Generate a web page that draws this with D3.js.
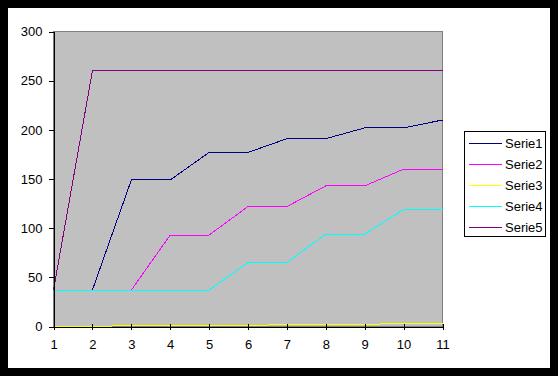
<!DOCTYPE html>
<html>
<head>
<meta charset="utf-8">
<script src="https://cdn.jsdelivr.net/npm/d3@7"></script>
<style>
  html, body { margin: 0; padding: 0; background: #000; }
  svg { display: block; }
  text { font-family: "Liberation Sans", Arial, sans-serif; font-size: 13px; fill: #000; }
</style>
</head>
<body>
<svg id="chart" width="558" height="376"></svg>
<script>
const categories = [1, 2, 3, 4, 5, 6, 7, 8, 9, 10, 11];
const serie1 = [37, 37, 149, 149, 177, 177, 191, 191, 202, 202, 210];
const serie2 = [37, 37, 37, 93, 93, 122, 122, 143, 143, 160, 160];
const serie3 = [0, 0, 1, 1, 1, 1, 2, 2, 2, 3.4, 3.4];
const serie4 = [37, 37, 37, 37, 37, 65, 65, 94, 94, 119, 119];
const serie5 = [37, 260, 260, 260, 260, 260, 260, 260, 260, 260, 260];
const seriesNames = ["Serie1", "Serie2", "Serie3", "Serie4", "Serie5"];
const seriesColors = ["#000080", "#FF00FF", "#FFFF00", "#00FFFF", "#800080"];
const yTicks = [0, 50, 100, 150, 200, 250, 300];

const seriesData = [serie1, serie2, serie3, serie4, serie5];

(function () {
const svg = d3.select("#chart");

svg.append("rect").attr("x", 0).attr("y", 0).attr("width", 558).attr("height", 376).attr("fill", "#000");
svg.append("rect").attr("x", 8).attr("y", 8).attr("width", 542).attr("height", 360).attr("fill", "#fff");

const pL = 53, pR = 442, pT = 31, pB = 326;
const x = d3.scaleLinear().domain([1, 11]).range([pL + 0.5, pR + 0.5]);
const y = d3.scaleLinear().domain([0, 300]).range([pB + 0.5, pT + 0.5]);

svg.append("rect")
  .attr("x", pL + 0.5).attr("y", pT + 0.5)
  .attr("width", pR - pL).attr("height", pB - pT)
  .attr("fill", "#C0C0C0")
  .attr("stroke", "#808080").attr("stroke-width", 1)
  .attr("shape-rendering", "crispEdges");

const line = d3.line().x((d, i) => x(categories[i])).y(d => y(d));
seriesData.forEach((s, k) => {
  svg.append("path")
    .datum(s)
    .attr("d", line)
    .attr("fill", "none")
    .attr("stroke", seriesColors[k])
    .attr("stroke-width", 1)
    .attr("shape-rendering", "crispEdges");
});

const yAxis = svg.append("g")
  .attr("transform", `translate(${pL + 0.5},0)`)
  .call(d3.axisLeft(y).tickValues(yTicks).tickSize(5).tickSizeOuter(0).tickPadding(6));
yAxis.select(".domain").attr("stroke", "#000").attr("shape-rendering", "crispEdges");
yAxis.selectAll(".tick line").attr("stroke", "#000").attr("shape-rendering", "crispEdges");
yAxis.selectAll(".tick text")
  .style("font-family", "'Liberation Sans', Arial, sans-serif").style("font-size", "13px")
  .attr("fill", "#000").attr("x", -11);

const xAxis = svg.append("g")
  .attr("transform", `translate(0,${pB + 0.5})`)
  .call(d3.axisBottom(x).tickValues(categories).tickFormat(d3.format("d")).tickSize(4).tickSizeOuter(0).tickPadding(9));
xAxis.select(".domain").attr("stroke", "#000").attr("shape-rendering", "crispEdges");
xAxis.selectAll(".tick line").attr("stroke", "#000").attr("y1", -3).attr("y2", 3).attr("shape-rendering", "crispEdges");
xAxis.selectAll(".tick text")
  .style("font-family", "'Liberation Sans', Arial, sans-serif").style("font-size", "13px")
  .attr("fill", "#000");

const lg = svg.append("g");
lg.append("rect")
  .attr("x", 464.5).attr("y", 131.5).attr("width", 81).attr("height", 105)
  .attr("fill", "#fff").attr("stroke", "#000").attr("stroke-width", 1)
  .attr("shape-rendering", "crispEdges");
const rowY = d3.scaleLinear().domain([0, 4]).range([143.5, 227.5]);
seriesNames.forEach((name, k) => {
  lg.append("line")
    .attr("x1", 469).attr("x2", 502)
    .attr("y1", rowY(k)).attr("y2", rowY(k))
    .attr("stroke", seriesColors[k]).attr("stroke-width", 1)
    .attr("shape-rendering", "crispEdges");
  lg.append("text")
    .attr("x", 505).attr("y", rowY(k)).attr("dy", "0.36em")
    .text(name);
});
})();
</script>
</body>
</html>
